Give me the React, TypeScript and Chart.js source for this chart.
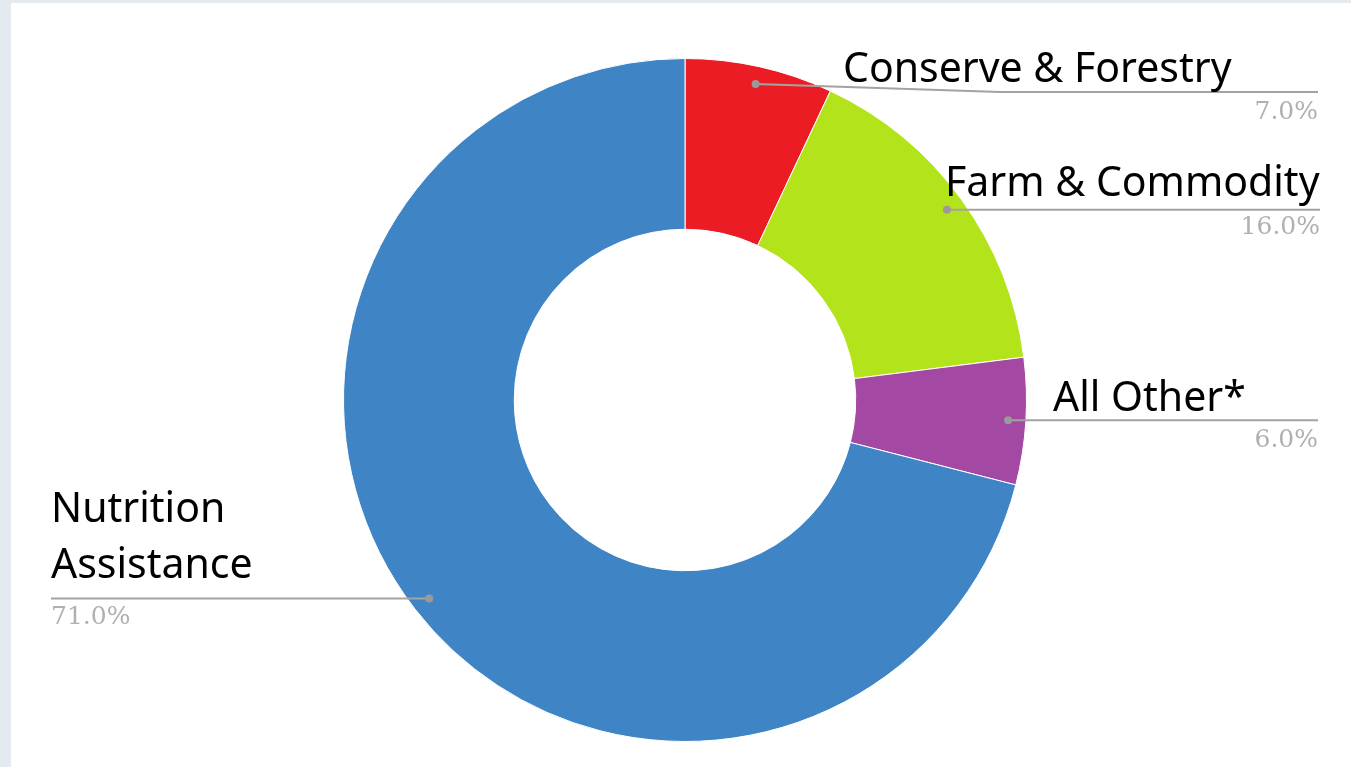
import React, { useEffect, useRef } from "react";
import { Chart, registerables } from "chart.js";

Chart.register(...registerables);

const categories = ["Conserve & Forestry", "Farm & Commodity", "All Other*", "Nutrition Assistance"];
const labelLines = [["Conserve & Forestry"], ["Farm & Commodity"], ["All Other*"], ["Nutrition", "Assistance"]];
const shares = [7.0, 16.0, 6.0, 71.0];
const percentLabels = ["7.0%", "16.0%", "6.0%", "71.0%"];
const colors = ["#ec1c24", "#b3e31b", "#a349a4", "#3f85c6"];

// layout of leader lines and labels (positions only)
const calloutLayout = [
  { side: "right", elbowX: 1000, lineY: 92, endX: 1318, textX: 843, baselines: [82], pctY: 112 },
  { side: "right", elbowX: null, lineY: null, endX: 1320, textX: 945, baselines: [196], pctY: 227 },
  { side: "right", elbowX: null, lineY: null, endX: 1318, textX: 1053, baselines: [411], pctY: 440 },
  { side: "left", elbowX: null, lineY: null, endX: 51, textX: 51, baselines: [522, 578], pctY: 617 },
];

const calloutPlugin = {
  id: "callouts",
  afterDatasetsDraw(chart: any) {
    const ctx = chart.ctx;
    const meta = chart.getDatasetMeta(0);
    meta.data.forEach((arc: any, i: number) => {
      const props = arc.getProps(["x", "y", "startAngle", "endAngle", "outerRadius"], true);
      const mid = (props.startAngle + props.endAngle) / 2;
      const r = props.outerRadius * 0.948;
      const dx = props.x + Math.cos(mid) * r;
      const dy = props.y + Math.sin(mid) * r;
      const L = calloutLayout[i];
      const ly = L.lineY ?? dy;
      const ex = L.elbowX ?? dx;
      ctx.save();
      ctx.strokeStyle = "#a3a3a3";
      ctx.lineWidth = 2;
      ctx.beginPath();
      ctx.moveTo(dx, dy);
      ctx.lineTo(ex, ly);
      ctx.lineTo(L.endX, ly);
      ctx.stroke();
      ctx.fillStyle = "#9a9a9a";
      ctx.beginPath();
      ctx.arc(dx, dy, 4, 0, Math.PI * 2);
      ctx.fill();

      ctx.fillStyle = "#000";
      ctx.font = '41px "Noto Sans"';
      ctx.textAlign = "left";
      ctx.textBaseline = "alphabetic";
      labelLines[i].forEach((t, j) => ctx.fillText(t, L.textX, L.baselines[j]));

      ctx.fillStyle = "#b0b0b0";
      ctx.font = '25px "DejaVu Serif"';
      ctx.textBaseline = "middle";
      ctx.textAlign = L.side === "right" ? "right" : "left";
      ctx.fillText(percentLabels[i], L.endX, L.pctY);
      ctx.restore();
    });
  },
};

export default function App() {
  const ref = useRef<HTMLCanvasElement>(null);
  useEffect(() => {
    document.body.style.margin = "0";
    const chart = new Chart(ref.current!, {
      type: "doughnut",
      data: {
        labels: categories,
        datasets: [
          {
            data: shares,
            backgroundColor: colors,
            borderColor: "#ffffff",
            borderWidth: 1,
          },
        ],
      },
      options: {
        responsive: false,
        maintainAspectRatio: false,
        animation: false,
        cutout: "50%",
        layout: { padding: { left: 19, right: 0, top: 58, bottom: 25 } },
        plugins: { legend: { display: false }, tooltip: { enabled: false } },
      },
      plugins: [calloutPlugin],
    });
    return () => chart.destroy();
  }, []);
  return (
    <div style={{ position: "fixed", left: 0, top: 0, width: 1351, height: 767, background: "#e5e9f0" }}>
      <div style={{ position: "absolute", left: 11, top: 3, right: 0, bottom: 0, background: "#ffffff" }} />
      <canvas ref={ref} width={1351} height={767} style={{ position: "absolute", left: 0, top: 0 }} />
    </div>
  );
}
